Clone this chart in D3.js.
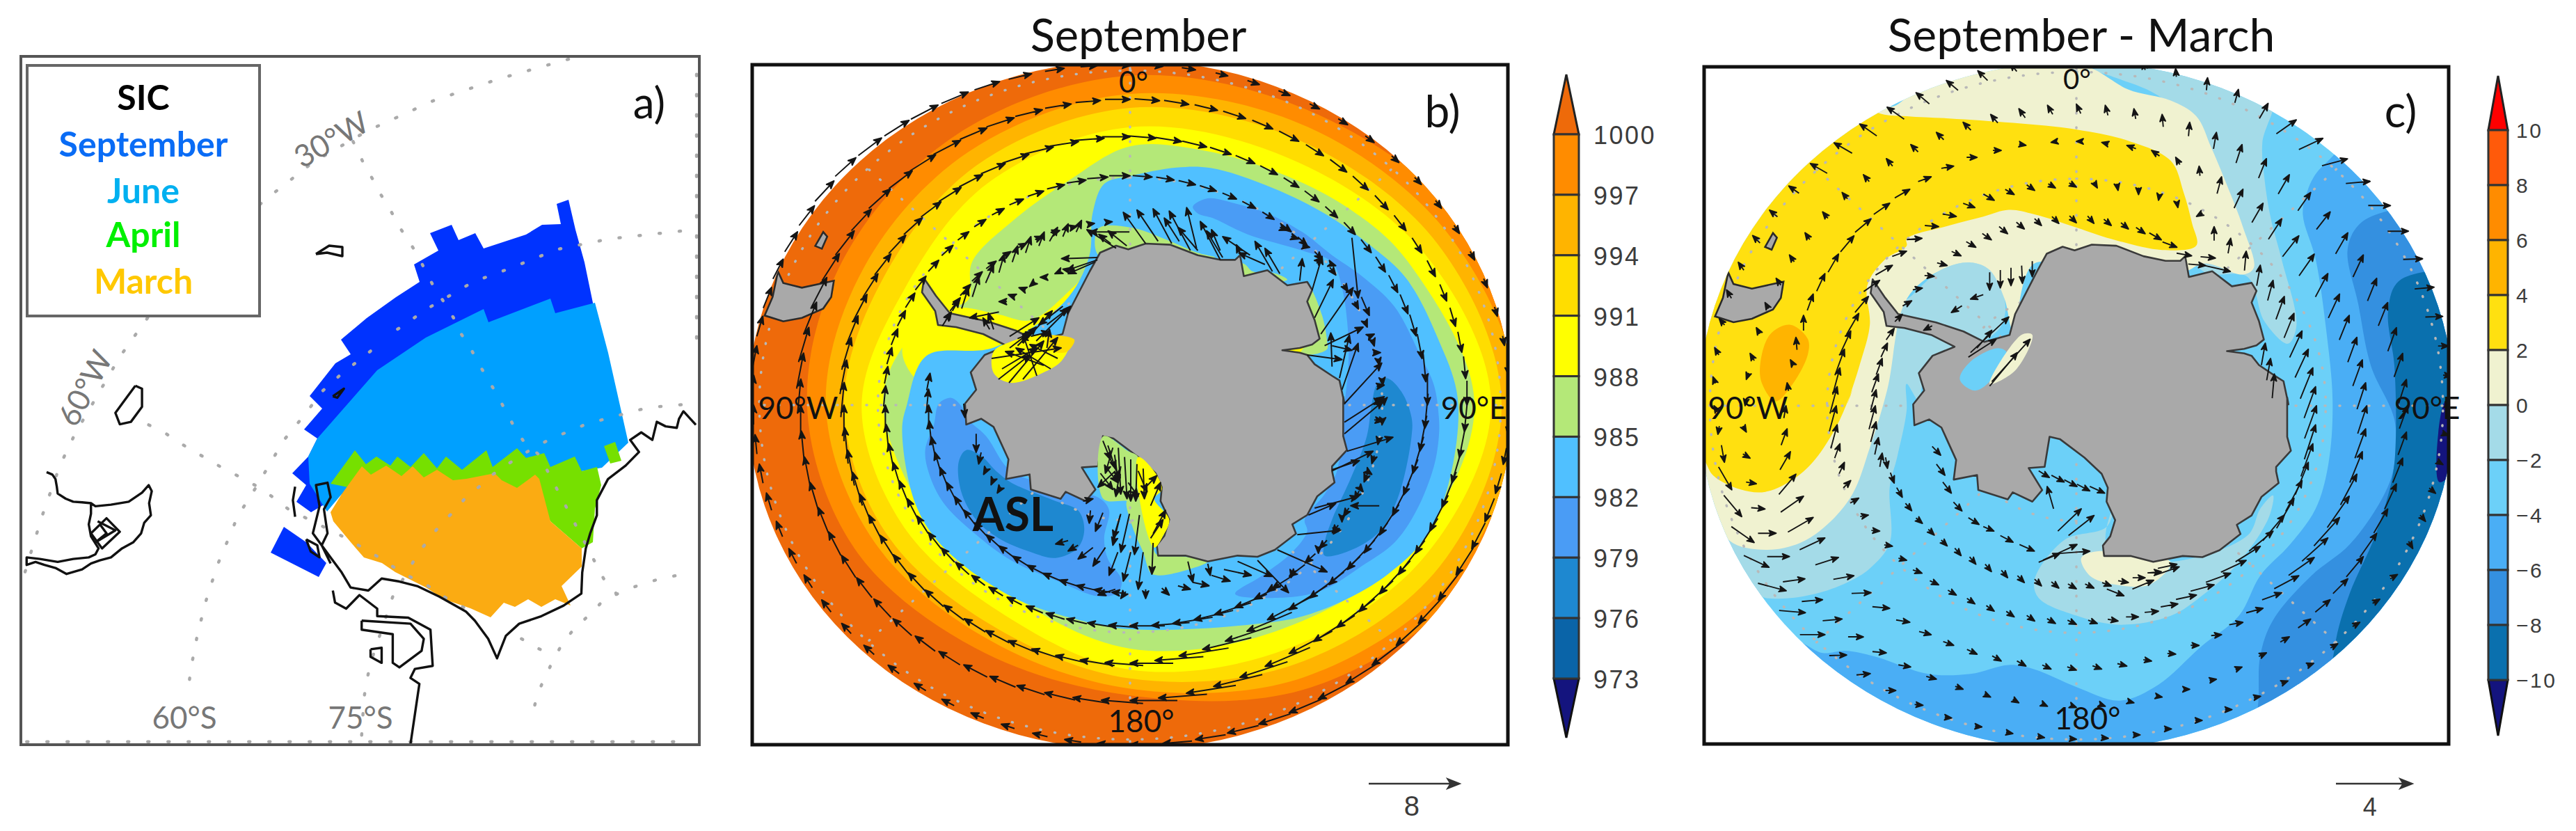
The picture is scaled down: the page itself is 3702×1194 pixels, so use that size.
<!DOCTYPE html>
<html><head><meta charset="utf-8">
<script src="https://cdnjs.cloudflare.com/ajax/libs/d3/7.8.5/d3.min.js"></script>
<style>html,body{margin:0;background:#fff}text{font-family:Lato,"Open Sans",sans-serif}.cb{font-family:"Liberation Sans",sans-serif;fill:#3c3c3c;letter-spacing:2.5px}</style>
</head><body><svg id="c" width="3702" height="1194"></svg>
<script>
// ---------- digitising grids (map units) ----------
const gridSpec={r:[0,3702,0,1194,3702,1194],a:[0,1000,420,680,1568,1571],z2:[450,600,0,500,1568,1500],z3:[1030,600,0,500,1568,1500],
 z4:[1060,560,560,520,1568,1560],z5:[1600,560,80,520,1568,1560],z6:[1600,560,560,520,1568,1560],z7:[2180,560,90,520,1568,1560],z8:[2740,960,90,1000,1568,1560],z9:[2180,560,560,520,1568,1560]};
// ---------- legend / labels ----------
const legendNames=["SIC","September","June","April","March"];
const legendColors=["#000","#0a6cf5","#00b0f0","#00f000","#ffc800"];
const colorbarB=[1000,997,994,991,988,985,982,979,976,973];
const colorsB=["#ee6a0a","#ff8c00","#ffb400","#ffdd00","#ffff00","#b4e878","#50c0ff","#4a9cf5","#1e88d0","#0a64a8","#14147e"];
const colorbarC=[10,8,6,4,2,0,-2,-4,-6,-8,-10];
const colorsC=["#ff0000","#ff5a0a","#ff8c00","#ffb400","#ffe010","#f0f2d0","#a4dbe8","#6cd0f8","#4aaef5","#3490e0","#0a70ae","#14147e"];
// ---------- panel a: sea-ice polygons and coast ----------
const iceSept=[["r",[490,488,527,457,569,427,603,405,595,380,630,360,618,335,649,323,659,345,683,335,695,357,756,337,779,323,806,322,800,293,817,287,827,330,840,377,852,435,855,470,700,560,491,710,447,736,426,721,440,697,420,680,443,656,456,630,437,617,463,587,445,569,482,522,504,509]]];
const iceSept2=[["r",[408,757,389,794,458,829,469,809,440,779]]];
const iceJune=[["r",[456,630,542,532,612,485,695,444,702,463,791,429,798,450,855,435,874,507,903,636,865,672,700,700,491,710,470,735,445,695,443,656]]];
const iceApril=[["r",[475,695,510,647,526,667,541,656,561,669,571,656,590,671,609,651,628,673,641,656,664,675,699,647,708,671,743,644,756,658,782,651,791,671,826,656,836,677,858,671,864,697,855,731,852,779,836,788,791,749,775,720,600,720]]];
const iceApril2=[["r",[868,641,884,635,893,662,877,666]]];
const iceMarch=[["r",[475,736,491,710,520,670,533,682,555,669,577,684,593,670,609,686,628,675,651,690,670,688,711,680,721,690,743,701,769,682,775,688,791,749,836,788,836,814,807,842,820,870,798,861,778,872,759,861,740,872,724,866,705,887,676,874,638,861,612,844,568,822,549,809,523,801,504,779,479,749]]];
const coastA=[
 ["a",[105,597,118,605,125,620,128,645,130,668,148,685,165,695,185,697,205,700,215,710,250,705,290,695,320,665,335,640,342,660,336,700,340,740,325,765,318,800,300,830,275,850,250,880,225,890,205,900,185,920,150,935,125,915,100,905,80,895,60,905,60,880,90,885,130,895,165,885,200,880,215,870,222,850,205,810,200,770,205,735,205,700]],
 ["a",[1568,440,1540,395,1530,420,1525,450,1500,445,1480,430,1470,490,1445,465,1420,490,1440,530,1410,575,1370,620,1345,690,1345,740,1330,800,1320,850,1312,930,1310,1000,1270,1040,1220,1075,1170,1100,1140,1140,1120,1215,1100,1150,1070,1090,1050,1060,990,1010,940,975,900,960,860,950,830,990,790,980,770,930,745,880,720,830,705,800,720,710,712,640,738,632,745,680,730,720,738,800,725,840,745,900]],
 ["a",[750,990,755,1030,780,1050,810,1005,850,1050,850,1075,920,1080,970,1120,975,1240,935,1250,925,1280,945,1300,935,1400,925,1500]],
 ["a",[815,1090,815,1120,885,1135,885,1230,900,1245,950,1190,955,1150,925,1100,815,1090]],
 ["a",[835,1185,860,1180,860,1230,835,1210,835,1185]],
 ["a",[305,310,320,320,320,380,295,430,270,438,260,400,285,350,305,310]],
 ["a",[665,645,660,690,665,745]],["a",[750,345,775,320,760,350,750,345]],
 ["a",[205,800,240,750,270,795,230,850,205,800]],["a",[220,760,260,790,215,830,240,800,225,770]],
 ["a",[690,820,715,840,720,880,700,860,690,820]],
 ["r",[454,365,473,353,492,355,492,368,470,363,454,365]]];
const dotsA=[
 ["r",[817,85,718,113,622,145,528,188,450,233,380,288,283,375,217,450,201,472,172,513,108,623,86,669,61,740,45,792,32,835]],
 ["r",[978,332,877,343,802,358,729,387,680,405,615,443,551,487]],["a",[835,195,805,230,770,270,725,330,690,400,640,490,620,540,580,640,535,745,520,800,490,905,465,1020,445,1135,430,1250,425,1310]],
 ["a",[815,1470,820,1350,825,1300,835,1230,885,1010,925,910,945,860,970,815,995,765,1025,725,1050,680,1080,645,1110,605,1165,550,1210,510,1250,480,1285,460,1325,435,1365,420,1440,390,1480,380,1520,375,1560,370]],
 ["a",[1205,1370,1215,1320,1250,1210,1270,1160,1295,1115,1325,1075,1355,1030,1385,1005,1425,980,1465,960,1505,945,1545,935]],
 ["z2",[150,610,190,705,225,775,255,840,290,905,322,975,360,1040,395,1105,425,1175,455,1240,490,1300,530,1375]],["a",[1040,140,1060,185,1080,240,1100,290,1120,340,1140,395,1160,450,1180,495,1215,540,1360,950,1400,1020]],
 ["a",[335,440,375,470,405,500,440,530,480,565,510,590,550,620,580,645,615,680,650,720,785,820,825,855,860,885,890,915,925,945,965,975,1000,1010,1050,1050]],
 ["a",[1175,1150,1210,1180,1250,1210]],
 ["a",[60,1492,1560,1492]],["z2",[1440,320,1440,1500]]];
// ---------- panel b: pressure contours (radius as fraction of map radius, by longitude) ----------
const lon12=[0,30,60,90,120,150,180,210,240,270,300,330];
const r1000=[.97,.99,1.04,1.06,1.04,.96,.855,.825,.845,.858,.875,.92];
const r997=[.916,.945,.985,1.03,1.0,.925,.835,.785,.79,.808,.815,.86];
const r994=[.875,.90,.945,.987,.95,.88,.805,.745,.75,.76,.755,.815];
const r991=[.818,.84,.90,.959,.90,.83,.779,.70,.70,.713,.69,.755];
const lon988=[0,15,30,45,60,90,120,150,180,210,240,270,285,300,306,315,330,346];
const r988=[.762,.775,.79,.82,.85,.915,.855,.77,.717,.64,.63,.656,.63,.56,.53,.594,.625,.68];
const lon985=[0,10,17,29,42,54,63,76,90,113,126,142,156,180,191,209,230,243,263,270,285,295,330,346,350,354];
const r985=[.674,.71,.73,.741,.764,.794,.823,.84,.872,.88,.847,.78,.711,.66,.648,.646,.649,.64,.61,.593,.56,.40,.35,.45,.573,.655];
const yellowWeddell=[["r",[1300,486,1345,445,1385,442,1436,452,1482,460,1543,412,1566,390,1590,420,1500,520,1340,560,1300,520]]];
const greenCoast1=[["z5",[-60,745,68,740,230,800,340,850,410,870,340,880,130,850,-60,860]]];
const greenCoast2=[["z5",[790,1000,840,1120,860,1230,860,1265,770,1290,740,1270,780,1050]]];
const greenCoast3=[["z5",[500,890,530,900,560,930,640,935,700,965,660,975,540,960]]];
const yellowAmery=[["z5",[675,1272,690,1262,745,1262,770,1245,745,1285,700,1288]]];
const green982R=[["z6",[55,480,110,500,160,680,175,710,290,720,380,740,250,790,180,800,150,790,120,700,80,600]]];
const greenRoss=[["z6",[-40,200,60,265,100,290,110,500,55,480,-40,470]]];
const yellowRoss=[["z6",[100,290,170,360,195,430,165,470,225,560,200,630,165,680,110,500]]];
const yellowRonne=[["r",[1428,505,1450,492,1500,480,1536,492,1526,518,1498,536,1452,550,1428,536]]];
const goldRonne=[["r",[1505,484,1544,488,1532,506,1508,502]]];
const mid982a=[["z5",[320,650,380,615,500,640,620,680,760,760,880,860,1000,950,1130,1080,1230,1280,1290,1420,1310,1560]],["z6",[1310,200,1290,330,1220,520,1130,660,1000,760,850,860,700,895,490,880,600,800,720,700,780,610,770,560,850,450,900,350,925,100]],["z5",[930,1500,945,1350,945,1200,920,1000,880,890,760,840,540,770,400,700,340,680]]];
const mid982b=[["z4",[860,35,810,60,790,150,755,260,770,360,830,490,960,625,1100,735,1300,830,1450,890,1530,875,1545,820,1490,730,1475,640,1495,520,1460,470,1300,420,1100,350,1000,200,920,120,900,70]]];
const dark979a=[["z4",[890,310,920,260,980,285,1040,350,1100,400,1160,430,1280,480,1370,520,1395,600,1370,680,1280,725,1180,700,1050,640,960,560,900,440]]];
const dark979b=[["z5",[1060,1420,1100,1390,1160,1450,1200,1560]],["z6",[1200,200,1150,450,1080,600,980,680,850,715,850,660,880,560,960,370,1020,200,1040,60]]];
// Antarctica outline, shared by both maps
const land=[["r",[1527,480,1535,450,1566,390,1581,363,1604,353]],
 ["z5",[60,835,130,810,230,815,340,860,430,880,490,880,510,860,525,950,620,925,700,990,780,975,800,1010,780,1060,810,1140,830,1220,800,1245,750,1260,680,1270,750,1280,780,1290,810,1330,880,1380,910,1400,930,1500]],
 ["z6",[925,30,925,200,940,260,880,330,880,350,890,400,820,460,780,540,720,580,735,620,650,690,580,720,500,715,380,740,290,715,180,715,175,670,205,630,225,560,190,480,195,420,170,360,100,290,0,210]],
 ["z4",[1470,200,1450,330,1385,335,1440,430,1400,480,1320,440,1300,470,1180,430,1175,365,1080,385,1090,300,1030,160,980,125,920,150,915,60,960,0]],
 ["r",[1395,535,1415,510,1447,497,1413,480,1374,470,1348,467,1344,447,1325,420,1328,400,1345,425,1365,450,1420,462,1460,475,1490,490]]];
const samerica=[["z3",[230,1170,250,1220,320,1240,400,1220,440,1210,430,1280,400,1330,320,1370,250,1385,180,1360,210,1280]]];
const falkland=[["z3",[400,1000,370,1060,395,1072,415,1020]]];
// wind arrows panel b: speeds on latitude rings, one value every 5 degrees of longitude
const ringLon=[0,45,90,120,150,180,225,270,315,360];
const rAb=[1.0,1.01,1.01,1.0,1.0,1.0,1.0,1.0,1.03,1.0];
const rBb=[.90,.895,.895,.875,.845,.87,.89,.875,.90,.90];
const rCb=[.79,.78,.79,.765,.73,.76,.77,.76,.78,.79];
const rDb=[.675,.665,.675,.655,.66,.65,.655,.65,.665,.675];
const rEb=[.54,.54,.56,.56,.56,.555,.54,.535,.555,.54];
const spdA=[20,20,20,18,18,18,16,16,16,14,14,14,14,14,14,14,14,14,14,18,24,30,36,42,46,50,52,55,55,55,52,50,48,46,44,42,40,28,24,22,20,20,20,20,20,20,20,22,22,24,24,26,28,28,28,28,30,30,32,32,34,36,40,40,42,42,44,42,38,34,28,24];
const spdB=[36,36,36,34,34,32,32,30,30,30,28,28,26,26,26,28,30,32,35,40,45,50,55,58,60,62,65,66,68,70,70,70,72,72,72,70,68,60,50,45,42,40,38,36,36,36,36,36,38,38,40,42,44,46,48,50,52,52,50,48,46,44,42,42,42,44,44,42,42,40,38,36];
const spdC=[40,40,38,36,32,30,28,26,26,24,24,24,26,28,30,32,36,40,45,50,52,55,55,52,52,55,58,60,62,65,68,70,70,72,72,70,62,55,50,45,42,40,38,36,36,36,36,38,40,42,46,50,52,52,52,50,50,48,45,42,40,38,36,36,36,38,38,38,40,42,42,42];
const spdD=[30,28,26,25,25,22,22,20,20,18,16,14,12,12,10,10,10,10,10,10,10,12,14,14,14,14,16,20,28,36,44,50,55,58,58,55,50,40,35,30,28,26,24,24,24,26,28,30,30,32,34,36,36,36,38,30,25,25,25,25,25,25,22,22,20,20,20,22,24,26,28,30];
const spdE=[0,0,0,0,0,0,0,0,0,0,0,0,0,0,0,0,0,0,0,0,0,0,0,0,0,0,0,0,0,0,0,0,0,0,0,0,0,20,24,26,28,30,30,30,30,30,30,30,30,32,32,34,34,35,35,30,25,0,0,0,24,24,22,20,18,16,14,12,12,10,10,8];
// single vectors near the coast (tail x,y, head x,y)
const coastB=[
 ["z5",[130,810,40,675,180,800,95,665,235,810,160,660,265,800,205,700,310,840,225,670,340,840,260,740,335,830,295,655,430,880,350,715,440,870,375,755,430,840,395,750,550,860,440,780,510,850,495,815,610,900,505,850,640,930,570,800,670,940,610,830,750,970,760,875,800,1010,840,865,810,1130,885,965,835,1200,965,1000,850,1250,1005,1170,880,1250,960,1270,780,1290,920,1310,880,1340,875,1195,910,1390,950,1205,920,1440,985,1240,930,1500,1080,1325,960,785,985,1045,998,1040,1030,1120,1040,1205,1050,1200,1045,1280,1075,1280,1060,1425,1090,1420,1060,1490,1080,1490,670,740,700,752,715,780,745,790,760,820,790,826,830,880,840,870,880,900,895,905]],
 ["z6",[930,140,1090,30,930,190,1085,50,940,265,1125,205,880,350,1045,265,880,345,990,305,810,510,985,460,785,540,895,490,740,625,915,605,660,690,860,785,580,735,705,875,500,740,640,805,445,775,555,800,380,750,390,800,395,800,470,825,300,740,320,830,320,830,385,845,260,845,310,860,195,855,225,885,130,860,130,900,120,700,100,860,160,660,155,795,105,540,85,710,70,700,40,825,65,535,30,700,30,535,0,640,50,870,30,900,660,840,620,870,725,770,715,810,825,690,825,705,1050,130,1085,135,1070,500,955,500,1020,350,1040,365,920,545,920,570,990,420,1005,440,20,250,30,450,45,290,55,470,70,300,70,480,95,320,90,480,120,340,125,470,150,500,190,400,150,640,200,560,160,620,210,520,130,420,175,370,5,280,20,400,30,330,10,460,100,350,135,440,60,400,100,460]],
 ["z4",[1540,540,1510,670,1470,530,1440,610,1480,680,1430,760,1530,700,1495,800,1430,680,1370,730,1370,670,1330,695,1330,650,1280,665,1520,860,1450,885,1420,520,1415,575,1390,480,1430,470,1470,220,1500,300,1490,240,1520,340,1510,250,1480,360,1500,300,1540,380,1480,330,1530,400,1460,360,1510,430,1520,350,1450,420,960,190,960,270,980,270,970,320,1000,345,990,365,1030,385,1020,410,1060,420,1045,445,910,60,915,120]],
 ["z3",[1430,1110,1295,1115,1430,1120,1315,1165,1420,1130,1320,1180,1345,1170,1300,1160,1290,1170,1270,1180,1235,1195,1215,1195,1195,1215,1175,1235,1160,1250,1135,1240,1120,1280,1095,1270,1090,1300,1060,1300,1550,1000,1400,1000,1500,1070,1390,990,1480,1050,1435,1010,1540,1060,1470,995,1350,1000,1370,950,1300,1020,1320,965,1250,1040,1280,980,1210,1060,1230,1000,1160,1090,1180,1020,1110,1130,1130,1060,1060,1175,1080,1095,1010,1220,1040,1140,960,1280,985,1190,920,1330,945,1240,885,1340,910,1290,860,1380,880,1350,1025,1420,1000,1370,1060,1345,950,1370,1040,1420,1020,1350,1300,1320,1210,1400,1240,1400,1320,1330,1180,1450,1250,1430,1130,1460,1190,1430,1100,1500,1180,1430,1130,1490,1200,1410,1150,1480,1260,1340,1200,1470,1330,1320,1240,1500,1250,1420,1100,1450,1210,1370]],
 ["r",[1450,550,1500,490,1470,545,1520,485,1490,540,1470,480,1440,530,1490,500,1510,530,1460,500,1425,515,1525,500,1435,545,1480,510,1500,525,1445,505,1520,515,1480,495]]];
// ---------- panel c: pressure difference contours ----------
const c64=[["z8",[1000,210,960,250,940,290,930,340,960,440,985,600,1000,760,990,900,960,1000,900,1080,830,1150,780,1240,690,1310,590,1395,500,1430,400,1400,300,1360,240,1350,150,1370,50,1370]],["z9",[1440,1150,1320,1125,1230,1135,1100,1080,1100,1500]],["z8",[400,1700,1500,1700,1500,100,1100,100]]];
const c86=[["z8",[1120,335,1060,365,1035,420,1060,540,1090,680,1145,800,1145,900,1120,970,1040,1080,950,1150,860,1250,830,1330,825,1440,800,1600,1500,1600,1500,300]]];
const c108=[["z8",[1210,470,1150,495,1130,560,1145,680,1148,850,1140,930,1100,1060,1040,1190,1005,1310,1000,1500,1500,1200,1500,470]]];
const cLow=[["z8",[1265,760,1248,830,1250,940,1275,925,1300,840]]];
const cm2a=[["z8",[440,15,600,-40,860,60,835,180,840,260,855,350,880,440,915,590,895,630,840,580,800,480,700,470,650,400,700,200,600,80,480,30]]];
const cm2b=[["z8",[300,1160,310,1200,400,1240,500,1260,620,1240,700,1190,780,1120,850,1020,860,970,830,1000,800,1060,600,1120,470,1080,490,980,470,1040,370,1070]]];
const cm2c=[["z8",[0,530,80,465,150,448,195,465,230,530,225,585,190,620,135,650,120,715,40,720,30,760,0,720]],["z9",[1568,90,1530,290,1500,420,1500,660,1420,770,1330,830,1200,880,1070,900,980,890,880,800,820,640,800,300,1100,300,1300,50]],["z7",[1450,1000,1568,1000]]];
const cm4w=[["z8",[125,710,150,670,215,640,235,650,195,715,160,735]]];
const c02=[["z7",[1500,190,1568,150]],["z8",[100,-20,300,-40,440,15,520,60,620,85,680,120,715,190,750,270,790,370,815,460,790,475,700,450,650,470,500,500,300,450,250,600,230,530,195,465,150,448,80,465,0,530]],["z9",[1490,0,1420,250,1350,450,1250,580,1140,660,1000,690,855,650,760,450,680,300]],["z7",[680,1000,740,700,1400,100]]];
const c02ross=[["z8",[410,1110,450,1095,620,1120,570,1170,490,1170,430,1150]]];
const c02w=[["z8",[195,720,270,610,295,610,255,690]]];
const c24=[["z7",[1300,100,1450,215,1568,231]],["z8",[100,125,250,135,400,150,520,175,620,220,650,290,670,360,680,410,600,420,480,395,400,370,300,340,240,330,180,345,100,365,0,395]],["z7",[1568,790,1480,850,1410,960,1420,1130,1380,1300,1330,1470]],["z9",[1350,0,1290,150,1200,300,1120,380,1000,440,900,430,790,370,750,300,680,250]],["z7",[680,1000,720,800]]];
const c46=[["z7",[1100,1130,1170,1190,1170,1260,1100,1400,1040,1460,985,1380,980,1290,1020,1170]]];
// wind difference arrows: bearing (deg clockwise from up) and length every 5 degrees of longitude
const rAcLon=[0,60,100,200,230,260,290,360];
const rAc=[1.03,1.03,1.0,.98,.95,.96,1.0,1.03];
const bA=[-30,-20,-15,-5,5,15,30,55,65,75,85,90,90,88,85,88,90,95,100,110,120,130,140,150,60,60,60,60,70,70,80,90,90,90,90,95,95,100,100,95,95,95,90,85,88,90,95,105,115,125,140,150,170,-170,-30,-20,-30,-40,-30,-35,-45,-50,-55,-60,-60,-55,-55,-50,-50,-45,-40,-35];
const lA=[12,12,12,12,18,20,25,35,38,38,35,32,30,28,28,25,15,12,10,10,10,12,12,12,12,12,12,12,10,10,10,10,10,10,10,10,10,10,10,10,10,12,15,20,25,36,38,42,40,40,40,38,25,12,10,10,12,12,14,14,15,15,18,28,30,30,30,25,22,20,15,12];
const bB=[-25,-15,-10,-5,5,10,18,22,30,35,38,30,25,22,22,20,20,18,20,20,22,25,30,35,40,45,50,55,60,65,70,80,90,100,105,110,110,115,120,115,110,105,100,95,90,85,85,82,90,90,95,100,120,150,-170,-160,-30,-30,-30,-35,-35,-35,-40,-40,-40,-40,-45,-45,-45,-40,-35,-30];
const lB=[15,15,15,18,20,24,28,30,32,32,32,35,35,35,36,36,36,36,35,35,38,40,40,42,38,30,28,22,15,12,10,10,8,8,8,8,8,9,10,10,12,15,18,20,22,28,30,32,32,26,20,15,12,10,10,10,12,10,10,12,12,12,12,12,13,14,15,15,16,16,16,15];
const bC=[-90,-75,-70,-55,-30,-5,15,25,30,33,38,35,28,25,22,20,20,18,18,20,22,28,35,42,48,55,62,70,75,80,85,90,95,100,105,110,110,115,120,120,115,110,105,100,95,88,80,72,65,60,55,40,30,20,10,-10,-30,-5,0,20,25,30,40,50,55,60,70,80,90,90,100,-100];
const lC=[8,10,14,14,12,14,25,30,32,35,38,38,38,38,38,38,40,40,42,45,48,50,55,55,50,45,40,30,25,20,15,12,12,12,14,14,14,14,15,15,16,16,18,20,25,28,30,35,40,42,40,38,30,25,18,12,8,18,22,25,28,30,30,30,28,25,20,18,15,12,10,8];
const bD=[120,150,170,180,-170,170,-120,0,10,5,10,15,20,22,25,25,22,20,20,18,20,22,28,30,40,50,58,65,70,75,78,80,85,90,100,110,115,120,125,125,125,125,120,115,110,105,100,95,80,60,45,25,20,15,15,15,15,20,25,30,40,55,60,70,85,95,100,110,120,120,125,120];
const lD=[12,10,10,10,8,8,10,20,22,28,30,30,35,38,42,45,48,48,50,52,50,50,50,50,48,45,42,40,38,35,30,25,20,18,15,14,14,14,14,14,14,14,14,14,14,12,12,12,12,14,15,18,22,35,38,40,40,40,35,35,30,28,28,22,22,20,20,18,18,15,14,12];
const bE=[135,140,130,130,125,120,110,100,95,5,10,15,15,10,10,10,5,5,10,12,15,20,25,35,45,55,60,65,70,75,78,85,90,100,110,115,120,130,135,135,140,140,140,140,135,135,130,140,150,160,170,10,12,15,15,15,20,20,25,35,45,60,80,95,105,115,120,125,130,130,135,135];
const lE=[14,14,14,14,16,20,22,22,25,25,25,28,28,30,32,32,35,38,40,42,42,42,40,35,32,30,30,28,28,28,28,20,18,15,14,14,14,14,14,14,14,14,14,14,12,12,12,14,16,16,16,20,25,30,35,30,28,25,22,20,15,15,14,14,15,15,16,16,16,15,14,14];
const coastC=[["z8",[195,470,195,510,220,465,220,505,245,460,245,500,270,455,272,495,295,445,295,480,690,435,725,438,700,455,760,468,60,590,40,600,130,545,105,560,180,520,150,530,145,660,210,620,150,650,240,570,200,715,290,620,195,725,260,650,165,640,200,600,310,915,335,930,340,925,370,940,370,935,400,950,400,945,430,960,430,950,465,965,345,1000,330,950,380,1060,440,1015,355,1050,410,1000,310,1120,360,1100,360,1100,430,1095,320,1115,400,1080,580,1150,640,1130,530,1180,580,1160,470,1180,510,1195,60,860,80,880,70,900,90,925,85,940,105,965,110,985,130,1005,145,1020,170,1035,180,1040,205,1050,220,1060,250,1075,265,1080,300,1095]]];
// ---------- helpers ----------
const svg=d3.select("#c");
const grid=Object.fromEntries(Object.entries(gridSpec).map(([k,s])=>[k,{x:d3.scaleLinear([0,s[4]],[s[0],s[0]+s[1]]),y:d3.scaleLinear([0,s[5]],[s[2],s[2]+s[3]])}]));
const flat=(shape)=>shape.flatMap(([t,a])=>d3.range(0,a.length,2).map(i=>[grid[t].x(a[i]),grid[t].y(a[i+1])]));
const mapB={cx:1624,cy:582,rx:541,ry:488},mapC={cx:2984,cy:583,rx:535,ry:487};
[mapB,mapC].forEach(m=>{m.x=d3.scaleLinear([-1,1],[m.cx-m.rx,m.cx+m.rx]);m.y=d3.scaleLinear([-1,1],[m.cy+m.ry,m.cy-m.ry]);});
const rad=d=>d*Math.PI/180;
const polar=(m,lon,r)=>[m.x(r*Math.sin(rad(lon))),m.y(r*Math.cos(rad(lon)))];
const smooth=d3.line().curve(d3.curveCatmullRomClosed.alpha(.5));
const sharp=d3.line();
const toMap=(m,p)=>[m.x((p[0]-mapB.cx)/mapB.rx),m.y((mapB.cy-p[1])/mapB.ry)];
const landB=flat(land);
const fillShape=(g,shape,c,curved=true)=>g.append("path").attr("d",(curved?smooth:sharp)(flat(shape))).attr("fill",c);
const ring=(g,m,lons,rs,c)=>g.append("path").attr("d",smooth(lons.map((l,i)=>polar(m,l,rs[i])))).attr("fill",c);
const arrow=(t,h,size=11)=>{const dx=h[0]-t[0],dy=h[1]-t[1],L=Math.hypot(dx,dy)||1,ux=dx/L,uy=dy/L,s=size,w=size*.4;
 return `M${t[0]},${t[1]}L${h[0]},${h[1]}M${h[0]},${h[1]}L${h[0]-ux*s-uy*w},${h[1]-uy*s+ux*w}L${h[0]-ux*s*.75},${h[1]-uy*s*.75}L${h[0]-ux*s+uy*w},${h[1]-uy*s-ux*w}Z`;};
const drawArrows=(g,list,w=2,size=11)=>g.append("g").selectAll("path").data(list).join("path").attr("d",d=>arrow(d[0],d[1],size)).attr("stroke","#151515").attr("stroke-width",w).attr("fill","#151515").attr("stroke-linejoin","round");
const segs=(shape)=>{const p=flat(shape),o=[];for(let i=0;i<p.length-1;i+=2)o.push([p[i],p[i+1]]);return o;};
const frame=(x,y,w,h,stroke,sw)=>svg.append("rect").attr("x",x).attr("y",y).attr("width",w).attr("height",h).attr("fill","none").attr("stroke",stroke).attr("stroke-width",sw);
const defs=svg.append("defs");
const clips=(id,m,fx,fy,fw,fh)=>{defs.append("clipPath").attr("id",id+"f").append("rect").attr("x",fx).attr("y",fy).attr("width",fw).attr("height",fh);
 defs.append("clipPath").attr("id",id+"d").append("ellipse").attr("cx",m.cx).attr("cy",m.cy).attr("rx",m.rx*1.015).attr("ry",m.ry*1.015);};
const FB=[1081,93,1086,977],FC=[2449,96,1070,973];
clips("b",mapB,...FB);clips("c",mapC,...FC);
const dotStyle=(s,c="#b8b8b8",w=3.5,dash="1 20")=>s.attr("fill","none").attr("stroke",c).attr("stroke-width",w).attr("stroke-dasharray",dash).attr("stroke-linecap","round");
const mapGrid=(g,m)=>{[0,45,90,135,180,225,270,315].forEach(l=>dotStyle(g.append("path").attr("d",sharp([polar(m,l,.0),polar(m,l,1.0)]))));
 [.34,.67,.985].forEach(r=>dotStyle(g.append("path").attr("d",sharp(d3.range(0,361,3).map(l=>polar(m,l,r))))));};
const drawLand=(g,m)=>{const pts=landB.map(p=>toMap(m,p));g.append("path").attr("d",sharp(pts)+"Z").attr("fill","#a9a9a9").attr("stroke","#3a3a3a").attr("stroke-width",2.6).attr("stroke-linejoin","round");};
const drawIslands=(g,m)=>{[samerica,falkland].forEach(s=>g.append("path").attr("d",sharp(flat(s).map(p=>toMap(m,p)))+"Z").attr("fill","#a9a9a9").attr("stroke","#2a2a2a").attr("stroke-width",2.6));};
const inLand=(m,p)=>d3.polygonContains(landB.map(q=>toMap(m,q)),p);
const lbl=(x,y,t,size,o={})=>{const s=svg.append("text").attr("x",x).attr("y",y).text(t).attr("font-size",size).attr("fill",o.fill||"#111").attr("text-anchor",o.anchor||"middle").attr("font-weight",o.weight||400);if(o.rot!==undefined)s.attr("transform",`rotate(${o.rot} ${x} ${y})`);return s;};

// ---------- panel a ----------
const ga=svg.append("g");
[[iceSept,"#0033ff"],[iceSept2,"#0033ff"],[iceJune,"#00a0ff"],[iceApril,"#76e000"],[iceApril2,"#76e000"],[iceMarch,"#fbab12"]].forEach(([s,c])=>fillShape(ga,s,c,false));
dotsA.forEach(d=>dotStyle(ga.append("path").attr("d",sharp(flat([d]))),"#aaa",4.5,"2 27"));
coastA.forEach(d=>ga.append("path").attr("d",sharp(flat([d]))).attr("fill","none").attr("stroke","#111").attr("stroke-width",3.4).attr("stroke-linejoin","round"));
svg.append("rect").attr("x",39).attr("y",94).attr("width",334).attr("height",360).attr("fill","#fff").attr("stroke","#666").attr("stroke-width",4);
frame(30,81,975,989,"#555",4);
legendNames.forEach((n,i)=>lbl(206,[158,225,292,355,422][i],n,50,{fill:legendColors[i],weight:700}));
lbl(484,214,"30°W",44,{fill:"#777",rot:-30});
lbl(136,565,"60°W",44,{fill:"#777",rot:-62});
lbl(265,1047,"60°S",44,{fill:"#777"});lbl(518,1047,"75°S",44,{fill:"#777"});
lbl(933,170,"a)",62);

// ---------- panel b ----------
const gb=svg.append("g").attr("clip-path","url(#bf)");
const gbd=gb.append("g").attr("clip-path","url(#bd)");
gbd.append("ellipse").attr("cx",mapB.cx).attr("cy",mapB.cy).attr("rx",mapB.rx*1.02).attr("ry",mapB.ry*1.02).attr("fill",colorsB[0]);
ring(gbd,mapB,lon12,r1000,colorsB[1]);ring(gbd,mapB,lon12,r997,colorsB[2]);ring(gbd,mapB,lon12,r994,colorsB[3]);ring(gbd,mapB,lon12,r991,colorsB[4]);
ring(gbd,mapB,lon988,r988,colorsB[5]);
fillShape(gbd,yellowWeddell,colorsB[4]);
ring(gbd,mapB,lon985,r985,colorsB[6]);
[mid982a,mid982b].forEach(s=>fillShape(gbd,s,colorsB[7]));
[dark979a,dark979b].forEach(s=>fillShape(gbd,s,colorsB[8]));
[greenCoast1,greenCoast2,greenCoast3,green982R].forEach(s=>fillShape(gbd,s,colorsB[5]));
fillShape(gbd,yellowAmery,colorsB[4]);
mapGrid(gbd,mapB);
drawLand(gbd,mapB);
[greenRoss,yellowRoss,yellowRonne].forEach((s,i)=>fillShape(gbd,s,[colorsB[5],colorsB[4],colorsB[4]][i]));
fillShape(gbd,goldRonne,colorsB[3]);
drawIslands(gbd,mapB);
const ringScale=(rs)=>d3.scaleLinear(ringLon,rs);
const ringsB=[[rAb,spdA],[rBb,spdB],[rCb,spdC],[rDb,spdD],[rEb,spdE]];
const arrB=[];
ringsB.forEach(([rs,sp])=>{const rr=ringScale(rs);sp.forEach((v,k)=>{if(!v)return;const lon=k*5,h=polar(mapB,lon,rr(lon));if(inLand(mapB,h))return;
 let ux=mapB.rx*Math.cos(rad(lon)),uy=mapB.ry*Math.sin(rad(lon));const L=Math.hypot(ux,uy);ux/=L;uy/=L;arrB.push([[h[0]-ux*v,h[1]-uy*v],h]);});});
drawArrows(gb,arrB);
drawArrows(gb,coastB.flatMap(s=>segs([s])));
lbl(1629,133,"0°",42);lbl(1147,602,"90°W",44);lbl(2118,602,"90°E",44);lbl(1640,1052,"180°",44);
lbl(2073,183,"b)",64);lbl(1456,763,"ASL",66,{weight:700});
lbl(1636,74,"September",65);
frame(...FB,"#111",5);

// ---------- panel c ----------
const gc=svg.append("g").attr("clip-path","url(#cf)");
const gcd=gc.append("g").attr("clip-path","url(#cd)");
gcd.append("ellipse").attr("cx",mapC.cx).attr("cy",mapC.cy).attr("rx",mapC.rx*1.02).attr("ry",mapC.ry*1.02).attr("fill",colorsC[7]);
[[c64,8],[c86,9],[c108,10],[cLow,11],[cm2a,6],[cm2b,6],[cm2c,6],[cm4w,7],[c02,5],[c02ross,5],[c02w,5],[c24,4],[c46,3]].forEach(([s,i])=>fillShape(gcd,s,colorsC[i]));
mapGrid(gcd,mapC);
drawLand(gcd,mapC);
[[cm4w,7],[c02w,5]].forEach(([s,i])=>fillShape(gcd,s,colorsC[i]));
drawIslands(gcd,mapC);
const rAcS=d3.scaleLinear(rAcLon,rAc);
const ringsC=[[l=>rAcS(l),bA,lA],[()=>.89,bB,lB],[()=>.78,bC,lC],[()=>.645,bD,lD],[()=>.54,bE,lE]];
const arrC=[];
ringsC.forEach(([r,b,l])=>b.forEach((br,k)=>{const lon=k*5,h=polar(mapC,lon,r(lon));if(inLand(mapC,h))return;const v=l[k];arrC.push([[h[0]-v*Math.sin(rad(br)),h[1]+v*Math.cos(rad(br))],h]);}));
drawArrows(gc,arrC,1.9,10);
drawArrows(gc,coastC.flatMap(s=>segs([s])),1.9,10);
lbl(2985,128,"0°",40);lbl(2512,602,"90°W",44);lbl(3488,602,"90°E",44);lbl(3000,1048,"180°",44);
lbl(3450,183,"c)",64);
lbl(2991,74,"September - March",66);
frame(...FC,"#111",5);

// ---------- colour bars ----------
const bar=(x0,x1,y,ticks,colors,tip0,tip1)=>{const sy=d3.scaleLinear(d3.extent(ticks),[y(d3.min(ticks)),y(d3.max(ticks))]);
 const g=svg.append("g");const xm=(x0+x1)/2;
 g.append("path").attr("d",`M${x0},${sy(ticks[0])}L${xm},${tip0}L${x1},${sy(ticks[0])}Z`).attr("fill",colors[0]).attr("stroke","#222").attr("stroke-width",3);
 const n=ticks.length;g.append("path").attr("d",`M${x0},${sy(ticks[n-1])}L${xm},${tip1}L${x1},${sy(ticks[n-1])}Z`).attr("fill",colors[n]).attr("stroke","#111").attr("stroke-width",3);
 g.selectAll("rect").data(d3.pairs(ticks)).join("rect").attr("x",x0).attr("width",x1-x0).attr("y",d=>sy(d[0])).attr("height",d=>sy(d[1])-sy(d[0])).attr("fill",(d,i)=>colors[i+1]).attr("stroke","#333").attr("stroke-width",3);
 return sy;};
const syB=bar(2233,2269,v=>d3.scaleLinear([1000,973],[193,975])(v),colorbarB,colorsB,107,1060);
svg.append("g").selectAll("text").data(colorbarB).join("text").attr("class","cb").attr("x",2290).attr("y",d=>syB(d)+14).attr("font-size",36).text(d=>d);
const syC=bar(3576,3604,v=>d3.scaleLinear([10,-10],[187,977])(v),colorbarC,colorsC,109,1057);
svg.append("g").selectAll("text").data(colorbarC).join("text").attr("class","cb").attr("x",3616).attr("y",d=>syC(d)+11).attr("font-size",30).text(d=>d<0?"\u2212"+(-d):d);

// ---------- reference vectors ----------
const refB=[[1967,1126],[2097,1126]],refC=[[3357,1126],[3466,1126]];
[refB,refC].forEach(r=>svg.append("path").attr("d",arrow(r[0],r[1],16)).attr("stroke","#333").attr("stroke-width",2.6).attr("fill","#333"));
svg.append("text").attr("class","cb").attr("x",2030).attr("y",1172).attr("text-anchor","middle").attr("font-size",40).text("8");
svg.append("text").attr("class","cb").attr("x",3407).attr("y",1172).attr("text-anchor","middle").attr("font-size",36).text("4");
</script></body></html>
